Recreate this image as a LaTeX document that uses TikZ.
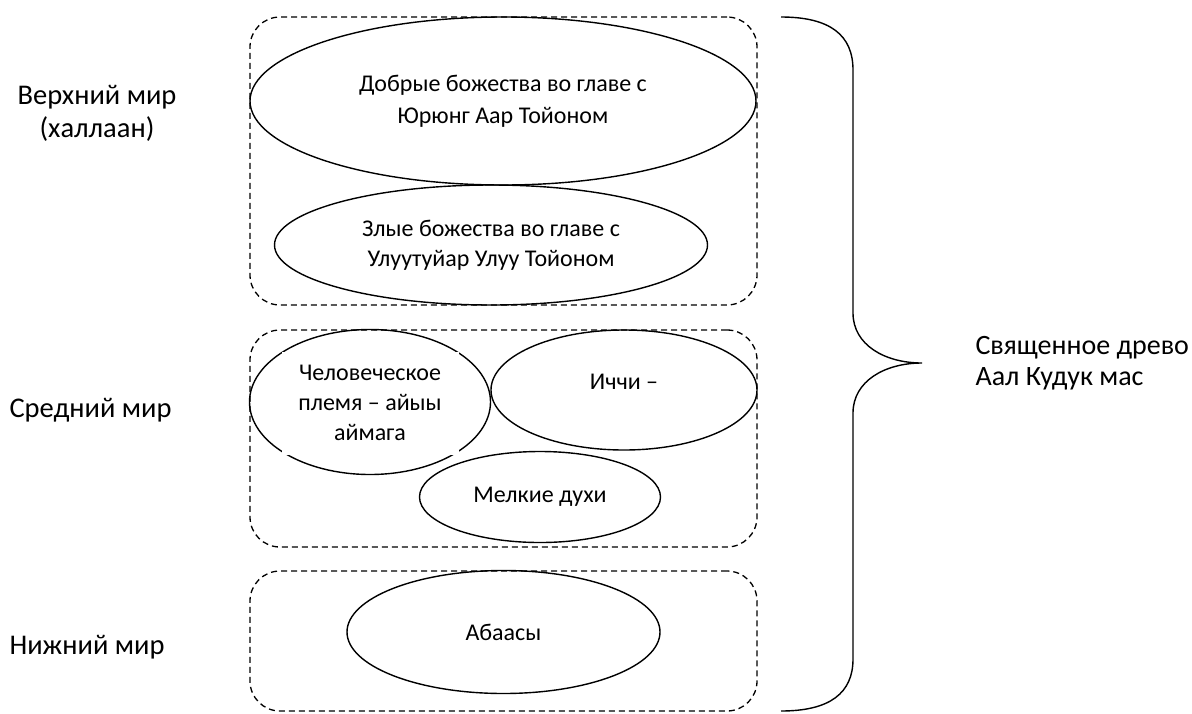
\documentclass[tikz,border=0pt]{standalone}
\usepackage{fontspec}
\setmainfont{Carlito}
\usetikzlibrary{shapes.geometric}

\tikzset{
  world/.style={draw, dashed, dash pattern=on 6pt off 4pt, line width=1.3pt, rounded corners=30pt, minimum width=507pt},
  spirit/.style={draw, ellipse, line width=1.4pt, align=center, inner sep=0pt, font=\fontsize{24}{32}\selectfont},
  label/.style={align=center, font=\fontsize{28.5}{33}\selectfont}
}

\begin{document}
\begin{tikzpicture}[x=1pt, y=-1pt]
\useasboundingbox (0,0) rectangle (1192,713);

% worlds
\node[world, minimum height=288pt] (upper) at (503.5, 161) {};
\node[world, minimum height=217pt] (middle) at (503.5, 438.5) {};
\node[world, minimum height=140pt] (lower) at (503.5, 641) {};

% spirits
\node[spirit, minimum width=506pt, minimum height=168pt] (good) at (503, 101) {Добрые божества во главе с\\Юрюнг Аар Тойоном};
\node[spirit, minimum width=433pt, minimum height=120pt, font=\fontsize{24}{30}\selectfont] (evil) at (491, 245) {Злые божества во главе с\\Улуутуйар Улуу Тойоном};
\node[spirit, minimum width=241pt, minimum height=145pt] (human) at (370, 402) {};
\node[fill=white, align=center, inner sep=0pt, minimum width=177pt, minimum height=103pt, font=\fontsize{24}{30}\selectfont] (humantext) at (370, 403) {Человеческое\\племя -- айыы\\аймага};
\node[spirit, minimum width=266pt, minimum height=120pt, text depth=16pt] (ichchi) at (624, 390) {Иччи --};
\node[spirit, minimum width=241pt, minimum height=91pt] (small) at (540, 497) {Мелкие духи};
\node[spirit, minimum width=313pt, minimum height=123pt] (abaasy) at (503.5, 632) {Абаасы};

% labels
\node[label] (upperlabel) at (97, 113) {Верхний мир\\(халлаан)};
\node[label, anchor=west] (middlelabel) at (6, 410) {Средний мир};
\node[label, anchor=west] (lowerlabel) at (6, 647) {Нижний мир};
\node[label, anchor=west, align=left, font=\fontsize{28}{31}\selectfont] (tree) at (972, 363) {Священное древо\\Аал Кудук мас};

% brace
\coordinate (bracetop) at (781, 17);
\coordinate (bracetip) at (922, 363);
\coordinate (bracebot) at (781, 711);
\draw[line width=1.4pt] (bracetop) .. controls (830,17) and (853,35) .. (853,70) -- (853,313)
  .. controls (853,345) and (885,363) .. (bracetip)
  .. controls (885,363) and (853,381) .. (853,413) -- (853,659)
  .. controls (853,693) and (830,711) .. (bracebot);
\end{tikzpicture}
\end{document}
